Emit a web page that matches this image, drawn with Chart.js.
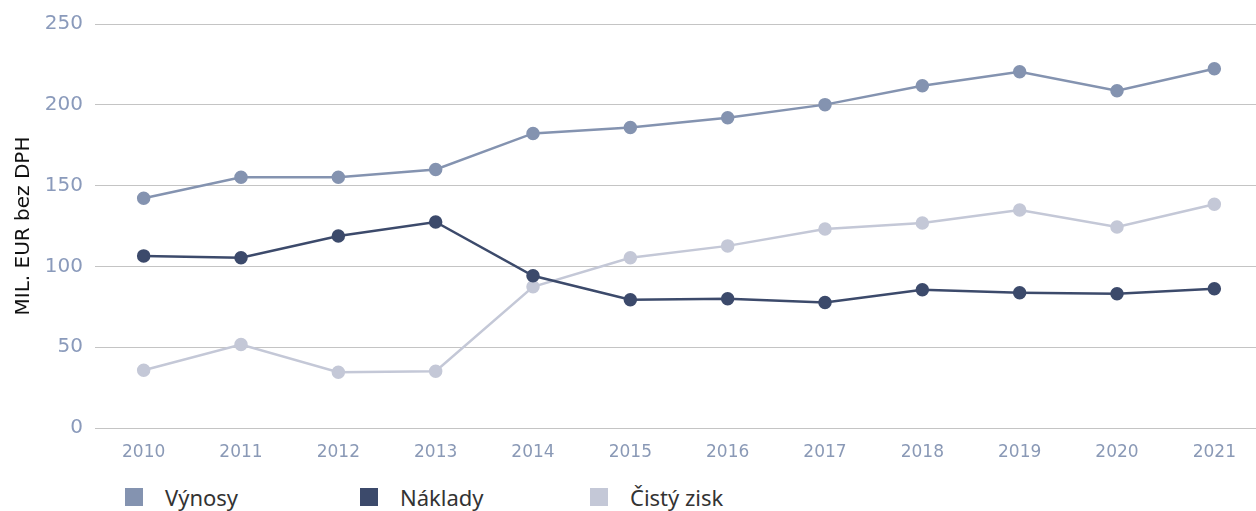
<!DOCTYPE html>
<html>
<head>
<meta charset="utf-8">
<script src="https://cdn.jsdelivr.net/npm/chart.js@4"></script>
<style>
  body { margin: 0; background: #fff; overflow: hidden; }
  #wrap { position: relative; width: 1263px; height: 470px; }
  #legend { position: absolute; left: 0; top: 484px; width: 1256px; height: 26px; font-family: "Noto Sans", sans-serif; font-size: 22px; color: #333; }
  .item { position: absolute; top: 0; display: flex; align-items: center; height: 26px; }
  .box { width: 18px; height: 18px; margin-right: 22px; }
</style>
</head>
<body>
<div id="wrap"><canvas id="chart"></canvas></div>
<div id="legend"></div>
<script>
const years = ["2010", "2011", "2012", "2013", "2014", "2015", "2016", "2017", "2018", "2019", "2020", "2021"];
const vynosy = [142.2, 155.2, 155.2, 160, 182.3, 186, 192, 200.1, 211.8, 220.4, 208.7, 222.3];
const naklady = [106.5, 105.3, 118.8, 127.5, 94.2, 79.4, 80, 77.6, 85.6, 83.7, 83.1, 86.2];
const cistyZisk = [35.7, 51.7, 34.5, 35.1, 87.4, 105.3, 112.7, 123.2, 126.8, 134.9, 124.4, 138.5];
const seriesNames = ["Výnosy", "Náklady", "Čistý zisk"];
const colors = ["#8493b0", "#3c4a6b", "#c4c8d7"];
const legendLeft = [125, 360, 590];

function dataset(i, values) {
  return {
    label: seriesNames[i],
    data: values,
    borderColor: colors[i],
    backgroundColor: colors[i],
    borderWidth: 2.5,
    pointRadius: 5.5,
    pointHoverRadius: 5.5,
    tension: 0
  };
}

new Chart(document.getElementById("chart"), {
  type: "line",
  data: {
    labels: years,
    datasets: [dataset(0, vynosy), dataset(1, naklady), dataset(2, cistyZisk)]
  },
  options: {
    responsive: true,
    maintainAspectRatio: false,
    animation: false,
    layout: { autoPadding: false, padding: { top: 21, right: 0 } },
    plugins: { legend: { display: false }, tooltip: { enabled: false } },
    scales: {
      x: {
        offset: true,
        grid: { display: false },
        border: { display: false },
        ticks: { color: "#8a99b6", font: { family: "DejaVu Sans", size: 17 }, padding: 6 },
        afterFit: s => { s.height = 42; }
      },
      y: {
        min: 0,
        max: 250,
        ticks: { stepSize: 50, color: "#8a9abb", font: { family: "DejaVu Sans", size: 20 }, padding: 12 },
        grid: { color: "#c4c4c4", drawTicks: false },
        border: { display: false },
        title: { display: true, text: "MIL. EUR bez DPH", color: "#111", font: { family: "DejaVu Sans", size: 20 }, padding: { top: 12, bottom: 0 } },
        afterFit: s => { s.width = 95; }
      }
    }
  }
});

const legend = document.getElementById("legend");
seriesNames.forEach((name, i) => {
  const item = document.createElement("div");
  item.className = "item";
  item.style.left = legendLeft[i] + "px";
  item.innerHTML = '<span class="box" style="background:' + colors[i] + '"></span>' + name;
  legend.appendChild(item);
});
</script>
</body>
</html>
